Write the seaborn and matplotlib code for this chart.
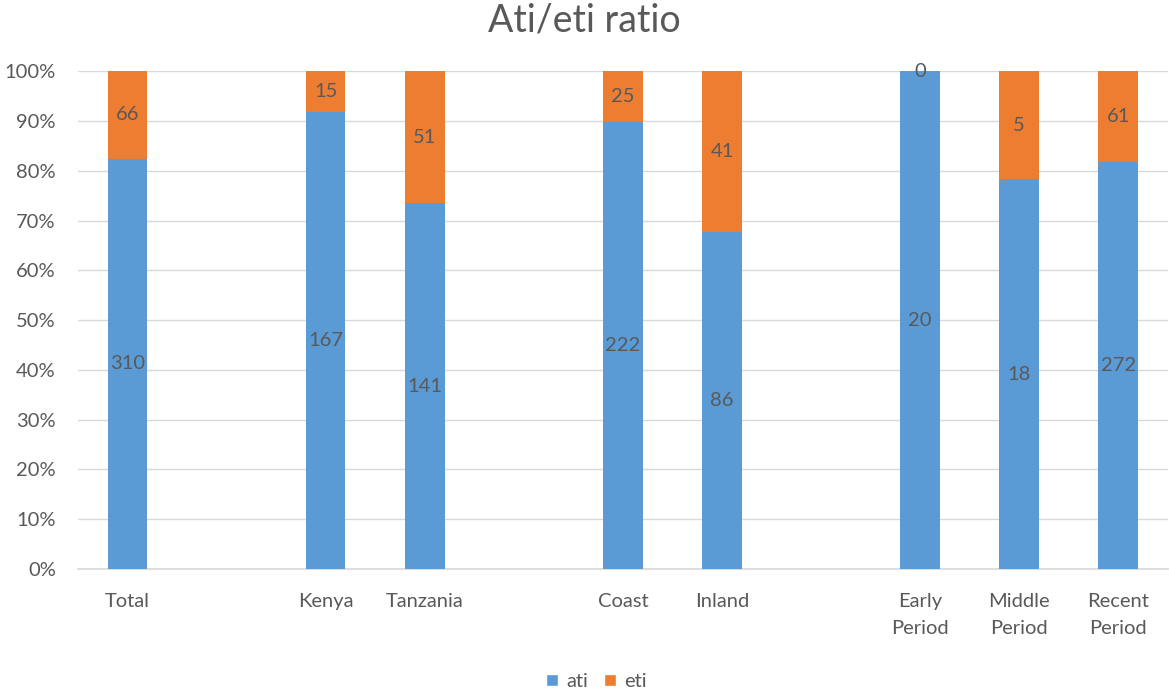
import matplotlib
matplotlib.use("Agg")
import matplotlib.pyplot as plt
import seaborn as sns
import pandas as pd
from matplotlib.patches import Patch
from matplotlib.ticker import PercentFormatter

categories = ["Total", " ", "Kenya", "Tanzania", "  ", "Coast", "Inland", "   ",
              "Early\nPeriod", "Middle\nPeriod", "Recent\nPeriod"]
ati = [310, 0, 167, 141, 0, 222, 86, 0, 20, 18, 272]
eti = [66, 0, 15, 51, 0, 25, 41, 0, 0, 5, 61]
is_blank = [False, True, False, False, True, False, False, True, False, False, False]

BLUE = "#5B9BD5"
ORANGE = "#ED7D31"
TXT = "#595959"
FS = 14.5

rows = []
for c, a, e, b in zip(categories, ati, eti, is_blank):
    tot = a + e
    af = a / tot if tot else 0
    rows.append({"cat": c, "ati_frac": af, "full": 0 if b else 1.0})
df = pd.DataFrame(rows)

sns.set_theme(style="white")
plt.rcParams["font.family"] = ["Lato", "DejaVu Sans"]

fig = plt.figure(figsize=(11.69, 6.91), dpi=100)
ax = fig.add_axes([0.0667, 0.1766, 0.9323, 0.7204])

sns.barplot(data=df, x="cat", y="full", order=categories, color=ORANGE,
            width=0.4, ax=ax, saturation=1, zorder=2, linewidth=0, edgecolor="none")
sns.barplot(data=df, x="cat", y="ati_frac", order=categories, color=BLUE,
            width=0.4, ax=ax, saturation=1, zorder=3, linewidth=0, edgecolor="none")

for i, (a, e, b) in enumerate(zip(ati, eti, is_blank)):
    if b:
        continue
    tot = a + e
    af = a / tot
    ax.text(i, af / 2, str(a), ha="center", va="center", fontsize=FS, color=TXT, zorder=5)
    ax.text(i, af + (1 - af) / 2, str(e), ha="center", va="center", fontsize=FS, color=TXT, zorder=5)

ax.set_ylim(0, 1)
ax.set_xlim(-0.5, len(categories) - 0.5)
ax.set_yticks([i / 10 for i in range(11)])
ax.yaxis.set_major_formatter(PercentFormatter(1.0, decimals=0))
ax.grid(axis="y", color="#D9D9D9", linewidth=1, zorder=0)
ax.set_axisbelow(True)
for s in ["top", "right", "left"]:
    ax.spines[s].set_visible(False)
ax.spines["bottom"].set_color("#D9D9D9")
ax.spines["bottom"].set_zorder(1)
ax.set_xlabel("")
ax.set_ylabel("")
ax.set_xticks(range(len(categories)))
ax.set_xticklabels([("" if b else c) for c, b in zip(categories, is_blank)], linespacing=1.75)
ax.tick_params(axis="both", length=0, labelsize=FS, labelcolor=TXT)
ax.tick_params(axis="x", pad=17)
ax.tick_params(axis="y", pad=16)

fig.suptitle("Ati/eti ratio", fontsize=27, color=TXT, y=0.996)

handles = [Patch(facecolor=BLUE, label="ati"), Patch(facecolor=ORANGE, label="eti")]
fig.legend(handles=handles, loc="lower center", ncol=2, frameon=False,
           fontsize=FS, labelcolor=TXT, bbox_to_anchor=(0.51, -0.025),
           handlelength=0.6, handleheight=0.6, handletextpad=0.4, columnspacing=0.8)

fig.savefig("out.png", dpi=100)
